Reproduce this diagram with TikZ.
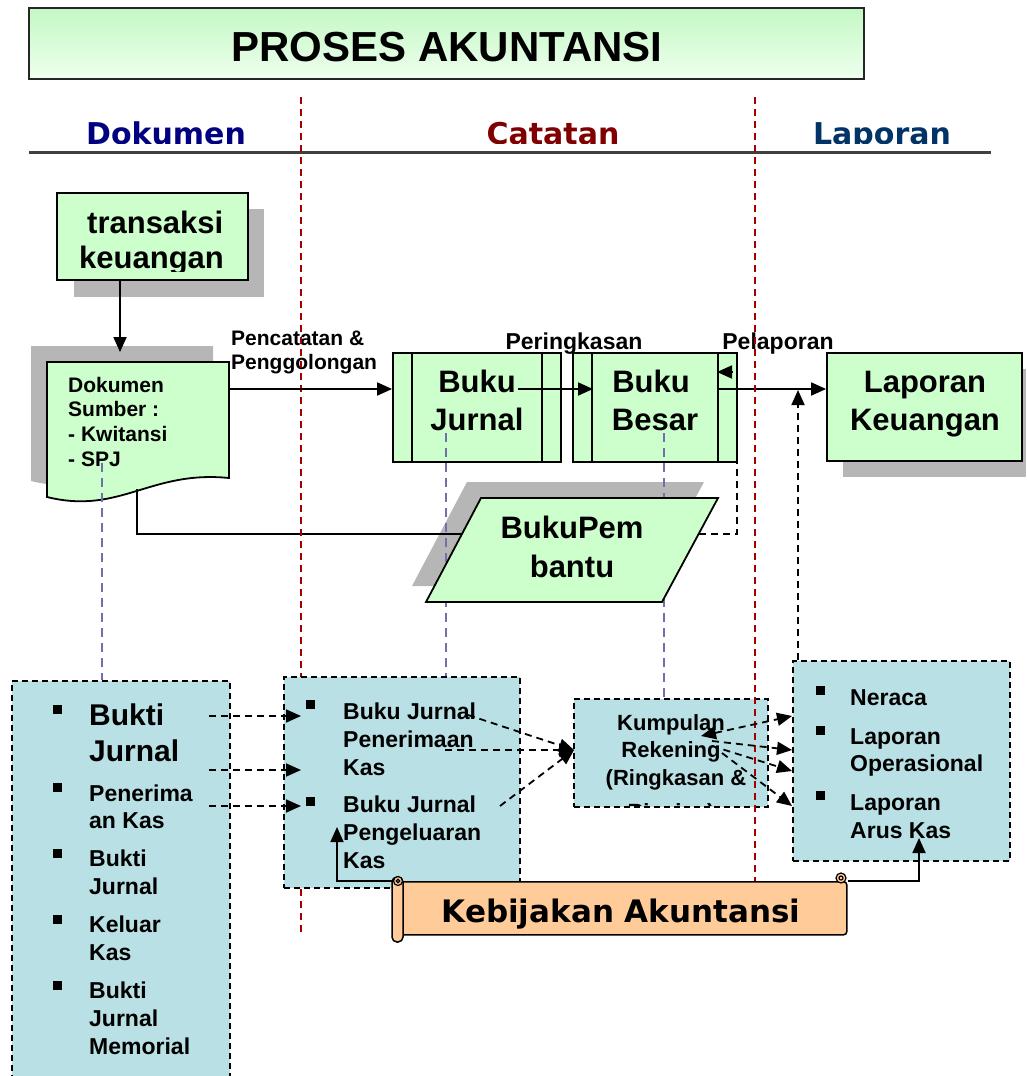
\documentclass[tikz,border=0pt]{standalone}
\usepackage{fontspec}
\setmainfont{Liberation Sans}
\newfontfamily\verd{DejaVu Sans}
\usetikzlibrary{arrows.meta}
\definecolor{gfill}{RGB}{204,255,204}
\definecolor{tgtop}{RGB}{196,248,196}
\definecolor{tgbot}{RGB}{238,255,238}
\definecolor{cfill}{RGB}{185,224,228}
\definecolor{shad}{RGB}{182,182,182}
\definecolor{peach}{RGB}{255,204,153}
\definecolor{lav}{RGB}{112,112,170}
\definecolor{dred}{RGB}{165,0,0}
\definecolor{hblue}{RGB}{0,0,128}
\definecolor{hred}{RGB}{128,0,0}
\definecolor{hnavy}{RGB}{0,51,102}
\newcommand\fsz[1]{\fontsize{#1}{#1}\selectfont}
\begin{document}
\begin{tikzpicture}[x=1pt,y=-1pt,
  gbox/.style={draw=black,line width=1.8pt,fill=gfill,inner sep=0pt},
  cbox/.style={draw=black,line width=1.6pt,dash pattern=on 6pt off 4pt,fill=cfill,inner sep=0pt},
  arr/.style={line width=1.8pt,-{Triangle[length=15pt,width=13pt]}},
  darr/.style={line width=1.8pt,dash pattern=on 7pt off 5pt,-{Triangle[length=15pt,width=13pt]}},
  ddarr/.style={line width=1.8pt,dash pattern=on 7pt off 5pt,{Triangle[length=15pt,width=13pt]}-{Triangle[length=15pt,width=13pt]}},
  lavline/.style={lav,line width=1.8pt,dash pattern=on 9pt off 6pt},
  redline/.style={dred,line width=1.4pt,dash pattern=on 7pt off 5pt},
  txt/.style={inner sep=0pt,font=\bfseries\fsz{23}},
  big/.style={inner sep=0pt,font=\bfseries\fsz{31}},
  small/.style={inner sep=0pt,font=\bfseries\fsz{21}},
  head/.style={inner sep=0pt,font=\verd\bfseries\fsz{30},anchor=base},
  bul/.style={fill=black,minimum size=9pt,inner sep=0pt}
]
\useasboundingbox (0,0) rectangle (1026,1076);

% title
\node[draw=black!85,line width=2pt,top color=tgtop,bottom color=tgbot,minimum width=835pt,minimum height=71pt,inner sep=0pt] (title) at (446.5,43.5) {};
\node[anchor=base,inner sep=0pt,font=\bfseries\fsz{42}] (titletext) at (447,61) {PROSES AKUNTANSI};

% headings
\begin{scope}
\clip (0,100) rectangle (1026,143.5);
\node[head,text=hblue] (hdok) at (166,144) {Dokumen};
\node[head,text=hred] (hcat) at (553,144) {Catatan};
\node[head,text=hnavy] (hlap) at (882,144) {Laporan};
\end{scope}
\draw[line width=2.5pt,black!75] (29,152.5) -- (991,152.5);

% transaksi keuangan
\fill[shad] (74,209) rectangle (264,297);
\node[gbox,minimum width=191pt,minimum height=87pt] (trans) at (152.5,236.5) {};
\begin{scope}
\clip (57,193) rectangle (248,271);
\node[big,anchor=base west] (tr1) at (87,233) {transaksi};
\node[big,anchor=base west] (tr2) at (79,268) {keuangan};
\end{scope}

% document
\fill[shad] (31,346) -- (213,346) -- (213,462) .. controls (134,454) and (104,499) .. (31,481) -- cycle;
\draw[line width=1.8pt,fill=gfill] (47,362) -- (229,362) -- (229,478) .. controls (150,470) and (120,515) .. (47,497) -- cycle;
\node[small,anchor=base west] (d1) at (68,392) {Dokumen};
\node[small,anchor=base west] (d2) at (68,416) {Sumber :};
\node[small,anchor=base west] (d3) at (68,441) {- Kwitansi};
\node[small,anchor=base west] (d4) at (68,466) {- SPJ};
\coordinate (docT) at (120,362);
\coordinate (docR) at (229,389);
\coordinate (docB) at (137,489);
\coordinate (transS) at (120,280);

% Buku Jurnal / Buku Besar / Laporan Keuangan
\node[gbox,minimum width=168pt,minimum height=109pt] (bj) at (477,407.5) {};
\draw[line width=1.5pt] ([xshift=20pt]bj.north west) -- ([xshift=20pt]bj.south west);
\draw[line width=1.5pt] ([xshift=-20pt]bj.north east) -- ([xshift=-20pt]bj.south east);
\node[big,anchor=base] (bj1) at (477,392) {Buku};
\node[big,anchor=base] (bj2) at (477,430) {Jurnal};

\node[gbox,minimum width=164pt,minimum height=109pt] (bb) at (655,407.5) {};
\draw[line width=1.5pt] ([xshift=20pt]bb.north west) -- ([xshift=20pt]bb.south west);
\draw[line width=1.5pt] ([xshift=-20pt]bb.north east) -- ([xshift=-20pt]bb.south east);
\node[big,anchor=base] (bb1) at (651,392) {Buku};
\node[big,anchor=base] (bb2) at (655,430) {Besar};

\fill[shad] (843,369) rectangle (1026,477);
\node[gbox,minimum width=195pt,minimum height=108pt] (lk) at (924.5,407) {};
\node[big,anchor=base] (lk1) at (925,392) {Laporan};
\node[big,anchor=base] (lk2) at (925,430) {Keuangan};

% labels
\node[small,anchor=base west] (lb1) at (231,345) {Pencatatan \&};
\node[small,anchor=base west] (lb2) at (231,369) {Penggolongan};
\node[txt,anchor=base] (lb3) at (574,349) {Peringkasan};
\node[txt,anchor=base] (lb4) at (778,349) {Pelaporan};

% parallelogram
\fill[shad] (467,482) -- (704,482) -- (648,586) -- (412,586) -- cycle;
\draw[lavline] (102,463) -- (102,680);
\draw[lavline] (446,433) -- (446,676);
\draw[lavline] (664,433) -- (664,697);
\coordinate (bpL) at (462,534);
\coordinate (bpR) at (699,534);
\draw[line width=1.8pt] (docB) |- (bpL);
\draw[line width=1.8pt,fill=gfill] (481,498) -- (718,498) -- (662,602) -- (426,602) -- cycle;
\node[big,anchor=base] (bp1) at (572,538) {BukuPem};
\node[big,anchor=base] (bp2) at (572,577) {bantu};
\coordinate (bbcorner) at (737,372);
\coordinate (bbarr) at (717,372);
\draw[darr] (bpR) -| (bbcorner) -- (bbarr);

% red dashed column lines
\draw[redline] (301,97) -- (301,932);

% top connectors
\draw[arr,shorten >=10pt] (transS) -- (docT);
\draw[arr] (docR) -- (bj.west |- docR);
\coordinate (bjout) at (518,389);
\coordinate (bbin) at (593,389);
\draw[arr] (bjout) -- (bbin);
\coordinate (bbout) at (717,389);
\draw[arr] (bbout) -- (lk.west |- bbout);

% bottom boxes
\node[cbox,minimum width=218pt,minimum height=410pt,anchor=north west] (bukti) at (11,680) {};
\node[cbox,minimum width=236pt,minimum height=211pt,anchor=north west] (bjk) at (283,676) {};
\node[cbox,minimum width=194pt,minimum height=108pt,anchor=north west] (kr) at (573,698) {};
\node[cbox,minimum width=217pt,minimum height=200pt,anchor=north west] (lap) at (792,660) {};
\draw[redline] (755,97) -- (755,932);

% bukti texts
\node[bul] at (57.5,709.5) {};
\node[bul] at (57.5,787.5) {};
\node[bul] at (57.5,853.5) {};
\node[bul] at (57.5,919.5) {};
\node[bul] at (57.5,985.5) {};
\node[inner sep=0pt,font=\bfseries\fsz{30},anchor=base west] (bk1) at (89,725) {Bukti};
\node[inner sep=0pt,font=\bfseries\fsz{30},anchor=base west] (bk2) at (89,761) {Jurnal};
\node[txt,anchor=base west] (bk3) at (89,801) {Penerima};
\node[txt,anchor=base west] (bk4) at (89,828) {an Kas};
\node[txt,anchor=base west] (bk5) at (89,866) {Bukti};
\node[txt,anchor=base west] (bk6) at (89,894) {Jurnal};
\node[txt,anchor=base west] (bk7) at (89,932) {Keluar};
\node[txt,anchor=base west] (bk8) at (89,960) {Kas};
\node[txt,anchor=base west] (bk9) at (89,998) {Bukti};
\node[txt,anchor=base west] (bk10) at (89,1026) {Jurnal};
\node[txt,anchor=base west] (bk11) at (89,1054) {Memorial};

% buku jurnal box texts
\node[bul] at (310.5,704.5) {};
\node[bul] at (310.5,801.5) {};
\node[txt,anchor=base west] (j1t) at (343,719) {Buku Jurnal};
\node[txt,anchor=base west] (j2t) at (343,747) {Penerimaan};
\node[txt,anchor=base west] (j3t) at (343,775) {Kas};
\node[txt,anchor=base west] (j4t) at (343,812) {Buku Jurnal};
\node[txt,anchor=base west] (j5t) at (343,840) {Pengeluaran};
\node[txt,anchor=base west] (j6t) at (343,868) {Kas};

% kumpulan texts
\begin{scope}
\clip (574,699) rectangle (766,805);
\node[inner sep=0pt,font=\bfseries\fsz{22},anchor=base] (k1) at (671,730) {Kumpulan};
\node[inner sep=0pt,font=\bfseries\fsz{22},anchor=base] (k2) at (671,757) {Rekening};
\node[inner sep=0pt,font=\bfseries\fsz{22},anchor=base] (k3) at (676,785) {(Ringkasan \&};
\node[inner sep=0pt,font=\bfseries\fsz{22},anchor=base] (k4) at (671,819) {Rincian)};
\end{scope}

% laporan box texts
\node[bul] at (820.5,690.5) {};
\node[bul] at (820.5,730.5) {};
\node[bul] at (820.5,795.5) {};
\node[txt,anchor=base west] (l1t) at (850,705) {Neraca};
\node[txt,anchor=base west] (l2t) at (850,744) {Laporan};
\node[txt,anchor=base west] (l3t) at (850,771) {Operasional};
\node[txt,anchor=base west] (l4t) at (850,810) {Laporan};
\node[txt,anchor=base west] (l5t) at (850,838) {Arus Kas};

% dashed arrows bukti -> buku jurnal
\coordinate (b1) at (209,716); \coordinate (t1) at (301,716);
\coordinate (b2) at (209,770); \coordinate (t2) at (301,770);
\coordinate (b3) at (209,806); \coordinate (t3) at (301,806);
\draw[darr] (b1) -- (t1);
\draw[darr] (b2) -- (t2);
\draw[darr] (b3) -- (t3);

% dashed arrows buku jurnal -> kumpulan
\coordinate (kin) at (574,750);
\coordinate (s1) at (468,715);
\coordinate (s2) at (445,750);
\coordinate (s3) at (500,806);
\draw[darr] (s1) -- (kin);
\draw[darr] (s2) -- (kin);
\draw[darr] (s3) -- (kin);

% dashed arrows kumpulan -> laporan
\coordinate (f0) at (701,736);
\coordinate (f2) at (712,741);
\coordinate (f3) at (712,746);
\coordinate (f4) at (722,753);
\coordinate (e1) at (792,716);
\coordinate (e2) at (792,750);
\coordinate (e3) at (792,771);
\coordinate (e4) at (792,806);
\draw[ddarr] (f0) -- (e1);
\draw[darr] (f2) -- (e2);
\draw[darr] (f3) -- (e3);
\draw[darr] (f4) -- (e4);

% dashed up arrow laporan -> pelaporan line
\coordinate (upT) at (798,390);
\draw[darr] (upT |- lap.north) -- (upT);

% scroll
\node[draw=black,line width=1.5pt,fill=peach,rounded corners=3pt,minimum width=448pt,minimum height=53pt,inner sep=0pt,anchor=north west] (keb) at (398,881) {};
\draw[line width=1.5pt,fill=peach,rounded corners=5pt] (392,877) rectangle (403,942);
\draw[line width=1.2pt,fill=peach] (398,881) circle (4.5pt);
\draw[line width=1.2pt] (398,881) circle (1.8pt);
\draw[line width=1.2pt,fill=peach] (841,878) circle (5pt);
\draw[line width=1.2pt] (841,878) circle (2pt);
\node[inner sep=0pt,font=\verd\bfseries\fsz{31},anchor=base] (kebt) at (621,922) {Kebijakan Akuntansi};
\coordinate (sclT) at (337,827);
\coordinate (lapA) at (919,838);
\draw[arr] ([xshift=-4pt]keb.north west) -| (sclT);
\draw[arr] (keb.north east) -| (lapA);
\end{tikzpicture}
\end{document}
